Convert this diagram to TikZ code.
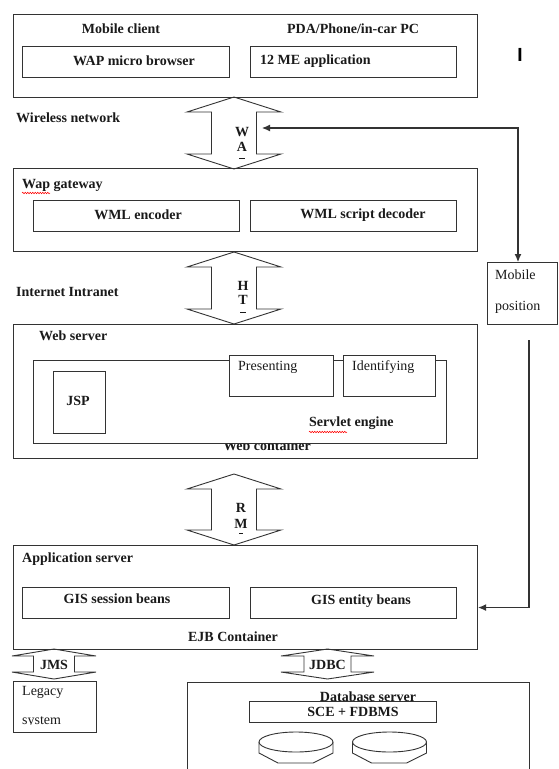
\documentclass[tikz,border=0pt]{standalone}
\usepackage{fontspec}
\setmainfont{Liberation Serif}
\newfontfamily\barfont{Liberation Sans}
\usetikzlibrary{arrows.meta,calc,decorations.pathmorphing}
\definecolor{linec}{HTML}{333333}
\definecolor{inkc}{HTML}{1A1A1A}

% rectangle node from its top-left and bottom-right corners
\newcommand{\rbox}[6][]{\node[box,#1,minimum width={(#4-#2)*1pt},minimum height={(#5-#3)*1pt}] (#6) at (#2,#3) {};}
% vertical block arrow with two heads: centre x, top y, bottom y, half head width, half shaft width, head length
\newcommand{\blkarrow}[7]{%
  \draw[blk] (#2,#3) coordinate (#1-n) -- (#2+#5,#3+#7) -- (#2+#6,#3+#7) -- (#2+#6,#4-#7)
    -- (#2+#5,#4-#7) -- (#2,#4) coordinate (#1-s) -- (#2-#5,#4-#7) -- (#2-#6,#4-#7)
    -- (#2-#6,#3+#7) -- (#2-#5,#3+#7) -- cycle;}

\begin{document}
\begin{tikzpicture}[x=1pt,y=-1pt,
  box/.style={draw=linec,line width=1.1pt,inner sep=0pt,anchor=north west},
  blk/.style={draw=linec,line width=0.9pt,line join=miter},
  lbl/.style={font=\fontsize{14}{16}\selectfont\bfseries,text=inkc,inner sep=0pt},
  lbll/.style={lbl,anchor=west},
  reg/.style={font=\fontsize{14}{16}\selectfont,text=inkc,inner sep=0pt,anchor=west},
  conn/.style={draw=linec,line width=1.1pt},
  tipend/.style={-{Latex[length=8pt,width=7pt]}},
  tipboth/.style={{Latex[length=8pt,width=7pt]}-{Latex[length=8pt,width=7pt]}},
  squig/.style={draw=red,line width=0.5pt,decorate,decoration={snake,amplitude=0.8pt,segment length=2.5pt}}
]
\useasboundingbox[fill=white] (0,0) rectangle (558,769);

% ---------- mobile client ----------
\rbox{13}{14}{477}{97}{mc}
\node[lbl] (mc-t) at (121,29) {Mobile client};
\node[lbl] (mc-dev) at (353,29) {PDA/Phone/in-car PC};
\rbox{22}{46}{229}{77}{wmb}
\node[lbl] (wmb-t) at (134,61) {WAP micro browser};
\rbox{250}{46}{456}{77}{jme}
\node[lbll] (jme-t) at (260,61) {12 ME application};
\node[font=\barfont\fontsize{19}{20}\selectfont\bfseries,text=black,inner sep=0pt] (cursor) at (520,55) {I};

% ---------- wireless link ----------
\node[lbll] (wl) at (16,118) {Wireless network};
\blkarrow{wa}{234}{97}{169}{47}{22.5}{15}
\node[lbl] (wa-w) at (242,132) {W};
\node[lbl] (wa-a) at (242,147) {A};
\draw[inkc,line width=1pt] (239,158) -- (245,158);

% ---------- wap gateway ----------
\rbox{13}{168}{477}{251}{gw}
\node[lbll] (gw-t) at (22,185) {Wap gateway};
\draw[squig] (22,193) -- (50,193);
\rbox{33}{200}{239}{231}{enc}
\node[lbl] (enc-t) at (138,215) {WML encoder};
\rbox{250}{200}{456}{231}{dec}
\node[lbl] (dec-t) at (363,215) {WML script decoder};

% ---------- internet link ----------
\node[lbll] (inet) at (16,292) {Internet Intranet};
\blkarrow{ht}{234}{252}{324}{47}{22.5}{15}
\node[lbl] (ht-h) at (243,286) {H};
\node[lbl] (ht-t) at (243,300) {T};
\draw[inkc,line width=1pt] (240,312) -- (246,312);

% ---------- mobile position ----------
\rbox{487}{262}{557}{324}{mp}
\node[reg] (mp-1) at (495,275) {Mobile};
\node[reg] (mp-2) at (495,307) {position};
\coordinate (wa-side) at (262,128);
\draw[conn,tipboth] (wa-side) -| ($(mp.north west)+(31,0)$);
\coordinate (mp-out) at (529,340);

% ---------- web server ----------
\rbox{13}{324}{477}{458}{ws}
\node[lbll] (ws-t) at (39,336) {Web server};
\begin{scope}
  \clip (30,444.5) rectangle (450,470);
  \node[lbl] (wc-t) at (267,446) {Web container};
\end{scope}
\rbox{33}{360}{446}{443}{wc}
\rbox[fill=white]{229}{355}{333}{396}{pres}
\node[reg] (pres-t) at (238,367) {Presenting};
\rbox[fill=white]{343}{355}{435}{396}{ident}
\node[reg] (ident-t) at (352,367) {Identifying};
\rbox{53}{371}{105}{433}{jsp}
\node[lbl] (jsp-t) at (78,401) {JSP};
\node[lbll] (se-t) at (309,423) {Servlet engine};
\draw[squig] (309,432) -- (347,432);

% ---------- rmi link ----------
\blkarrow{rm}{234}{474}{545}{47}{22.5}{15}
\node[lbl] (rm-r) at (241,508) {R};
\node[lbl] (rm-m) at (241,524) {M};
\draw[inkc,line width=1pt] (239,533) -- (243,533);

% ---------- application server ----------
\rbox{13}{545}{477}{649}{as}
\node[lbll] (as-t) at (22,559) {Application server};
\rbox{22}{587}{229}{618}{gsb}
\node[lbl] (gsb-t) at (117,599) {GIS session beans};
\rbox{250}{587}{456}{618}{geb}
\node[lbl] (geb-t) at (361,601) {GIS entity beans};
\node[lbl] (ejb-t) at (233,637) {EJB Container};
\draw[conn,tipend] (mp-out) |- ($(as.east)+(0,10)$);

% ---------- legacy link ----------
\blkarrow{jms}{54}{649}{679}{42}{20.5}{7}
\node[lbl] (jms-t) at (54,665) {JMS};
\rbox{13}{681}{96}{732}{leg}
\node[reg] (leg-1) at (22,692) {Legacy};
\begin{scope}
  \clip (15,700) rectangle (95,724);
  \node[reg] (leg-2) at (22,722) {system};
\end{scope}

% ---------- database link ----------
\blkarrow{jdbc}{327.5}{649}{679}{46.5}{23.5}{7}
\node[lbl] (jdbc-t) at (327.5,665) {JDBC};
\rbox{187}{682}{529}{800}{db}
\node[lbl] (db-t) at (368,697) {Database server};
\rbox[fill=white]{249}{701}{436}{722}{sce}
\node[lbl] (sce-t) at (353,712) {SCE + FDBMS};

% disks
\foreach \cx/\nm in {296/dk1,389.5/dk2}{
  \draw[draw=linec,line width=0.9pt] (\cx-37,742) -- (\cx-37,753) -- (\cx-18,763) -- (\cx+17,763) -- (\cx+37,753) -- (\cx+37,742);
  \draw[draw=linec,line width=0.9pt,fill=white] (\cx,742) ellipse [x radius=37, y radius=10];
  \coordinate (\nm) at (\cx,742);
}
\end{tikzpicture}
\end{document}
